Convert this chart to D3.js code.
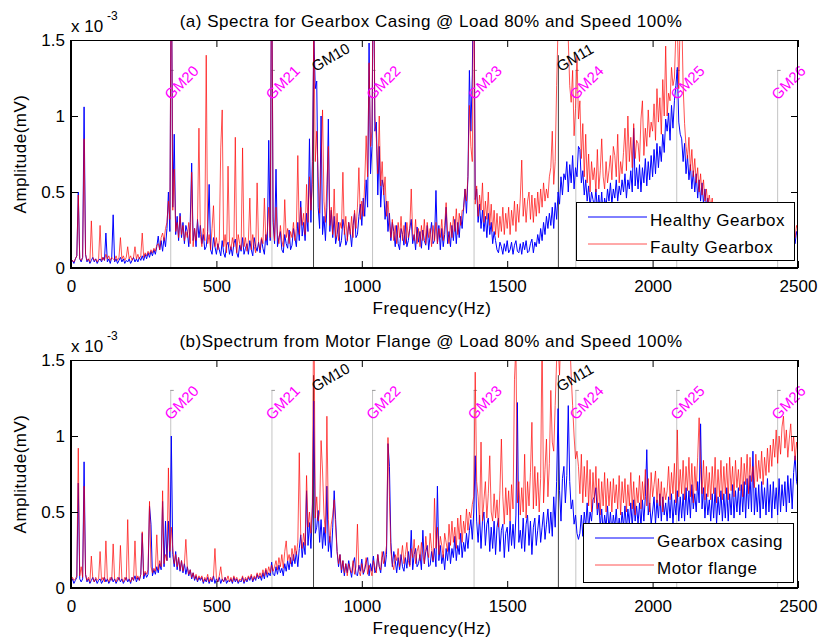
<!DOCTYPE html>
<html>
<head>
  <meta charset="utf-8">
  <title>Gearbox spectra</title>
  <script src="https://d3js.org/d3.v7.min.js"></script>
  <style>
    body { margin: 0; background: #fff; }
    svg { font-family: Arial, "Liberation Sans", Helvetica, sans-serif; }
    .tick text { font-size: 17px; fill: #000; }
    .tick line { stroke: #000; }
    .title, .legend-text, .axis-label { font-size: 17px; letter-spacing: 0.5px; fill: #000; }
    .spec { fill: none; stroke-width: 1px; stroke-linejoin: round; }
  </style>
</head>
<body>
<script>
  // spectrum grid: one value every 5 Hz from 0 to 2500 Hz
  // amplitudes in units of 0.01 x 10^-3 mV
  var freqStep = 5;

  var xTicks = [0, 500, 1000, 1500, 2000, 2500];
  var yTicks = [0, 0.5, 1, 1.5];
  var yTickLabels = ["0", "0.5", "1", "1.5"];

  var gm2Names = ["GM20", "GM21", "GM22", "GM23", "GM24", "GM25", "GM26"];
  var gm2Freqs = [343, 691, 1037, 1386, 1736, 2083, 2430];
  var gm1Names = ["GM10", "GM11"];
  var gm1Freqs = [834, 1676];

  // (a) gearbox casing, healthy gearbox
  var healthyGearbox = [
    3,5,3,6,8,50,6,4,7,106, 9,4,6,3,5,7,4,6,3,5,
    6,4,7,5,23,4,6,3,7,35, 4,6,3,5,7,4,6,3,5,4,
    6,3,5,7,4,6,4,7,5,8, 5,9,6,10,7,11,8,12,9,14,
    21,12,18,11,20,14,26,50,24,220, 40,88,22,34,18,36,20,30,16,28,
    24,14,30,69,18,26,14,32,20,28, 16,22,12,14,24,55,12,9,20,14,
    9,16,12,8,18,10,7,15,17,9, 14,8,16,19,10,7,15,11,20,9,
    13,16,9,18,12,8,20,14,11,17, 10,19,13,9,22,15,84,18,220,30,
    16,65,14,20,24,12,10,22,16,13, 25,12,15,26,20,14,30,18,44,21,
    30,18,36,24,85,30,70,155,118,123, 40,26,100,22,34,18,40,98,24,38,
    20,34,16,22,30,14,18,32,26,15, 18,30,24,14,28,36,20,22,34,42,
    28,46,34,58,40,148,62,80,220,90, 96,48,80,40,58,53,32,44,24,36,
    18,30,24,14,28,16,12,26,22,15, 30,14,18,26,32,16,22,12,27,17,
    24,13,25,18,15,28,12,22,30,16, 18,51,16,28,12,26,14,22,40,16,
    24,14,28,18,32,16,30,20,34,26, 40,52,36,60,130,90,127,220,45,52,
    30,42,26,38,24,34,20,36,22,30, 16,24,18,12,10,17,14,9,16,11,
    18,10,12,17,9,15,18,11,10,16, 9,17,12,18,10,11,16,19,10,17,
    14,22,16,26,18,30,22,34,26,36, 28,40,26,43,32,50,42,60,48,62,
    58,70,50,68,56,74,52,66,60,80, 78,56,64,48,58,44,54,40,50,45,
    40,52,38,48,36,50,34,46,40,52, 44,56,42,52,46,58,44,54,48,58,
    50,62,46,58,52,64,50,92,54,66, 52,68,50,66,56,72,54,70,58,74,
    60,78,62,82,66,80,70,88,76,98, 90,102,84,107,92,110,120,132,96,88,
    85,70,82,62,74,58,68,52,64,50, 62,46,58,44,56,42,52,40,46,38,
    38,30,36,28,34,26,32,28,30,24, 28,22,30,24,26,20,28,22,26,20,
    25,19,27,21,24,18,26,20,25,19, 24,18,25,20,23,17,24,19,22,18,
    21,26,18,24,20,25,17,22,19,24, 20,25,18,23,16,24,19,22,16,24,
    20
  ];

  // (a) gearbox casing, faulty gearbox
  var faultyGearbox = [
    3,5,4,6,8,48,6,5,7,85, 9,5,6,4,31,7,5,6,4,6,
    28,5,7,5,9,6,8,5,7,6, 5,8,5,7,20,6,8,5,7,14,
    6,8,5,7,14,6,9,6,8,23, 7,10,8,11,9,12,10,13,11,15,
    16,12,20,23,18,26,30,44,32,220, 38,65,24,30,20,34,22,28,18,24,
    20,30,16,63,14,26,18,30,92,22, 14,26,18,140,16,22,12,26,41,14,
    20,12,18,79,104,14,22,10,67,16, 12,20,14,86,10,22,16,12,79,14,
    20,11,18,46,12,22,14,10,56,16, 12,20,16,46,18,24,40,20,220,34,
    18,40,22,16,28,18,14,45,20,26, 16,24,20,30,18,26,74,22,40,28,
    36,22,55,30,60,38,55,160,70,90, 60,36,70,104,44,30,55,80,28,40,
    22,52,20,36,18,30,26,63,22,34, 18,30,22,34,20,38,26,40,66,32,
    44,34,56,87,60,135,80,90,220,100, 85,62,100,54,70,48,60,34,44,30,
    20,32,18,28,16,30,20,34,18,28, 16,30,20,26,52,22,18,32,16,26,
    14,28,18,32,16,30,20,26,14,28, 18,30,16,26,20,32,18,28,43,22,
    16,30,20,34,24,39,22,36,28,38, 38,52,44,60,107,80,70,220,42,54,
    34,48,38,56,30,44,32,50,28,42, 24,38,22,36,20,34,24,40,22,36,
    26,40,22,38,28,44,24,42,30,46, 71,34,46,30,44,50,32,48,30,46,
    34,50,36,52,40,56,44,52,46,60, 66,90,55,70,120,160,170,155,165,180,
    160,175,150,120,109,130,87,105,140,98, 110,72,95,60,88,56,75,50,70,58,
    66,50,78,52,64,85,60,52,70,56, 64,74,58,80,74,60,88,56,70,62,
    76,92,64,100,70,86,66,95,72,84, 82,70,98,110,74,92,80,104,86,96,
    90,108,84,118,96,112,88,124,100,146, 100,115,110,132,120,125,155,160,118,165,
    170,120,95,80,72,86,64,78,60,72, 56,66,50,62,48,58,44,52,42,48,
    40,46,36,42,34,40,33,38,32,36, 30,36,29,34,28,33,27,32,28,31,
    27,32,26,31,25,30,26,29,24,30, 26,30,24,29,23,28,25,29,23,27,
    24,29,22,28,26,30,23,27,22,28, 25,29,23,27,22,28,24,27,20,28,
    25
  ];

  // (b) gearbox casing
  var gearboxCasing = [
    4,6,3,5,7,69,6,4,6,83, 9,4,6,3,5,7,4,6,3,5,
    6,3,5,7,4,6,3,5,7,4, 6,3,5,7,4,6,3,5,7,4,
    6,3,7,5,8,4,7,5,9,36, 6,10,7,9,54,42,8,12,9,14,
    10,16,12,57,14,44,18,44,20,100, 22,14,24,12,20,11,18,10,16,9,
    14,8,12,6,10,5,8,4,7,5, 7,3,6,4,7,3,6,4,8,3,
    6,4,7,3,6,4,7,3,5,4, 6,3,7,4,6,3,5,4,7,3,
    6,4,7,5,8,4,7,5,9,6, 8,5,10,6,12,7,10,8,17,9,
    8,14,9,15,10,13,8,16,11,18, 12,20,14,22,16,24,14,26,35,20,
    30,22,64,28,43,26,50,123,36,40, 51,30,45,26,40,28,67,24,34,20,
    40,64,45,24,14,22,10,18,8,16, 10,18,12,7,16,20,9,8,15,11,
    19,9,12,17,20,8,16,11,21,10, 12,22,14,10,20,24,14,22,95,80,
    30,14,24,18,10,20,12,22,14,11, 20,13,24,15,38,12,22,26,14,16,
    22,12,38,16,24,28,14,15,24,17, 26,14,67,18,28,16,22,12,26,18,
    30,16,26,20,34,18,28,22,36,20, 30,24,36,26,38,45,32,50,87,44,
    30,48,26,44,50,28,42,46,24,40, 26,44,22,40,46,24,38,42,20,36,
    40,24,44,28,42,26,48,122,30,38, 26,46,24,42,48,28,44,22,40,46,
    28,38,48,30,40,50,32,42,52,36, 50,34,60,40,70,118,64,44,72,80,
    56,74,120,70,52,58,42,48,36,32, 36,48,34,50,40,56,38,50,44,58,
    60,66,48,56,40,52,36,48,40,54, 38,50,36,48,40,52,36,46,38,50,
    40,54,38,52,42,56,40,58,44,54, 42,56,40,58,44,60,91,48,56,42,
    50,60,42,58,46,62,44,60,48,56, 44,60,46,62,42,58,48,64,44,60,
    46,62,44,66,48,64,46,68,52,62, 50,70,56,108,52,66,46,62,48,58,
    44,62,46,66,42,60,48,64,44,62, 46,66,44,62,48,68,46,64,50,66,
    48,68,50,70,46,72,52,74,50,90, 48,66,50,68,46,70,52,66,48,72,
    50,68,46,70,52,66,48,72,50,68, 54,70,50,74,56,72,52,76,87,70,
    66
  ];

  // (b) motor flange
  var motorFlange = [
    4,7,5,6,8,92,8,14,7,67, 9,5,7,4,21,6,4,7,5,6,
    24,5,7,4,31,6,4,7,5,29, 6,4,7,5,28,6,4,7,5,45,
    6,4,7,5,31,6,8,5,9,37, 8,11,9,12,57,14,10,13,11,35,
    12,18,14,64,16,22,18,79,24,40, 26,16,22,14,20,12,18,11,16,32,
    14,9,12,7,10,6,9,5,8,6, 8,4,7,5,9,4,7,5,8,26,
    7,4,8,14,6,4,7,5,8,4, 7,4,8,5,7,4,6,5,8,4,
    7,5,8,6,9,5,8,6,10,7, 10,7,12,8,13,9,14,10,15,11,
    14,18,12,20,14,22,13,24,31,18, 22,16,26,18,28,22,30,89,34,26,
    36,28,74,40,50,36,55,200,46,60, 44,50,97,77,48,36,113,45,30,42,
    48,58,40,24,16,22,12,18,10,16, 8,16,12,10,18,9,14,42,11,8,
    16,10,13,20,9,15,12,8,18,14, 10,22,14,12,24,16,20,28,99,60,
    24,16,12,22,18,26,14,20,28,16, 22,30,18,14,26,20,32,16,24,28,
    18,30,22,16,34,24,20,36,26,18, 59,26,40,22,34,28,20,36,30,24,
    42,28,44,30,40,26,46,32,48,30, 44,36,52,38,50,46,55,60,142,70,
    60,42,96,44,58,70,46,62,87,50, 44,62,46,58,40,64,98,60,42,66,
    48,64,44,68,52,137,160,56,70,48, 66,50,88,46,70,54,76,109,52,80,
    54,76,50,72,170,56,78,98,60,82, 130,96,90,120,150,160,140,170,155,165,
    160,175,150,165,140,120,100,85,90,80, 62,88,56,80,60,84,54,78,50,76,
    56,80,52,72,48,70,54,76,50,72, 54,70,50,72,56,68,52,74,48,70,
    56,72,50,68,54,76,52,70,48,66, 56,74,52,70,58,78,54,72,50,76,
    60,68,77,56,72,54,70,50,66,58, 64,80,58,76,62,82,56,104,60,78,
    62,84,58,80,64,86,60,82,56,80, 64,86,112,78,62,84,58,80,60,76,
    58,80,62,86,56,78,60,84,58,80, 62,82,58,86,64,80,60,84,66,78,
    64,86,60,82,68,88,62,86,70,80, 66,88,70,84,72,90,68,86,74,92,
    76,94,80,98,86,104,82,100,88,106, 113,92,104,86,98,108,90,100,84,96,
    88
  ];

  // Layout
  var width = 821, height = 641;
  var plotLeft = 71, plotRight = 798;
  var redOpacity = 0.68;

  var panels = [
    { id: "a", top: 40, bottom: 268,
      title: "(a) Spectra for Gearbox Casing @ Load 80% and Speed 100%",
      blue: healthyGearbox, red: faultyGearbox,
      names: ["Healthy Gearbox", "Faulty Gearbox"],
      legend: { x: 576, y: 202, w: 218, h: 58, lineX: 588, lineW: 59, textX: 650 } },
    { id: "b", top: 360, bottom: 588,
      title: "(b)Spectrum from Motor Flange @ Load 80% and Speed 100%",
      blue: gearboxCasing, red: motorFlange,
      names: ["Gearbox casing", "Motor flange"],
      legend: { x: 583, y: 523, w: 210, h: 59, lineX: 595, lineW: 59, textX: 657 } }
  ];

  var svg = d3.select("body").append("svg")
      .attr("width", width)
      .attr("height", height);

  panels.forEach(drawPanel);

  function drawPanel(p) {
    var x = d3.scaleLinear().domain([0, 2500]).range([plotLeft, plotRight]);
    var y = d3.scaleLinear().domain([0, 1.5]).range([p.bottom, p.top]);

    svg.append("clipPath").attr("id", "clip-" + p.id)
      .append("rect")
        .attr("x", plotLeft).attr("y", p.top)
        .attr("width", plotRight - plotLeft).attr("height", p.bottom - p.top);

    var g = svg.append("g");

    // gear mesh reference lines
    gm2Freqs.forEach(function(f) {
      g.append("line")
          .attr("x1", x(f)).attr("x2", x(f))
          .attr("y1", y(0)).attr("y2", y(1.3))
          .attr("stroke", "#c4c4c4").attr("stroke-width", 1);
      g.append("line")
          .attr("x1", x(f) - 0.5).attr("x2", x(f) + 3)
          .attr("y1", y(1.3)).attr("y2", y(1.3))
          .attr("stroke", "#999").attr("stroke-width", 1);
    });
    gm1Freqs.forEach(function(f) {
      g.append("line")
          .attr("x1", x(f)).attr("x2", x(f))
          .attr("y1", y(0)).attr("y2", y(1.4))
          .attr("stroke", "#404040").attr("stroke-width", 1);
    });

    // spectra
    var line = d3.line()
        .x(function(d, i) { return x(i * freqStep); })
        .y(function(d) { return y(d / 100); });

    g.append("path")
        .datum(p.blue)
        .attr("class", "spec")
        .attr("clip-path", "url(#clip-" + p.id + ")")
        .attr("stroke", "#0000ff")
        .attr("d", line);

    g.append("path")
        .datum(p.red)
        .attr("class", "spec")
        .attr("clip-path", "url(#clip-" + p.id + ")")
        .attr("stroke", "#ff0000")
        .attr("stroke-opacity", redOpacity)
        .attr("d", line);

    // GM labels
    gm2Freqs.forEach(function(f, i) {
      g.append("text")
          .attr("transform", "translate(" + x(f) + "," + y(1.1) + ") rotate(-45)")
          .style("font-size", "15px")
          .style("fill", "#ff00ff")
          .text(gm2Names[i]);
    });
    gm1Freqs.forEach(function(f, i) {
      g.append("text")
          .attr("transform", "translate(" + (x(f) + 2) + "," + y(1.29) + ") rotate(-30)")
          .style("font-size", "15px")
          .style("fill", "#000")
          .text(gm1Names[i]);
    });

    // axes
    var bottomAxis = g.append("g")
        .attr("transform", "translate(0," + p.bottom + ")")
        .call(d3.axisBottom(x).tickValues(xTicks).tickSizeInner(-7).tickSizeOuter(0).tickPadding(12)
              .tickFormat(d3.format("d")));
    var leftAxis = g.append("g")
        .attr("transform", "translate(" + plotLeft + ",0)")
        .call(d3.axisLeft(y).tickValues(yTicks).tickSizeInner(-7).tickSizeOuter(0).tickPadding(6)
              .tickFormat(function(d, i) { return yTickLabels[i]; }));
    var topAxis = g.append("g")
        .attr("transform", "translate(0," + p.top + ")")
        .call(d3.axisTop(x).tickValues(xTicks).tickSizeInner(-7).tickSizeOuter(0).tickFormat(""));
    var rightAxis = g.append("g")
        .attr("transform", "translate(" + plotRight + ",0)")
        .call(d3.axisRight(y).tickValues(yTicks).tickSizeInner(-7).tickSizeOuter(0).tickFormat(""));

    [bottomAxis, leftAxis, topAxis, rightAxis].forEach(function(a) {
      a.attr("font-family", null).attr("font-size", null);
      a.select(".domain").remove();
    });
    leftAxis.selectAll(".tick text").attr("dy", "0.35em");

    // box
    g.append("line").attr("x1", plotLeft).attr("x2", plotRight).attr("y1", p.top + 0.5).attr("y2", p.top + 0.5)
        .attr("stroke", "#000").attr("stroke-width", 1);
    g.append("line").attr("x1", plotRight - 0.5).attr("x2", plotRight - 0.5).attr("y1", p.top).attr("y2", p.bottom)
        .attr("stroke", "#000").attr("stroke-width", 1);
    g.append("line").attr("x1", plotLeft - 1).attr("x2", plotRight).attr("y1", p.bottom).attr("y2", p.bottom)
        .attr("stroke", "#000").attr("stroke-width", 2);
    g.append("line").attr("x1", plotLeft).attr("x2", plotLeft).attr("y1", p.top).attr("y2", p.bottom + 1)
        .attr("stroke", "#000").attr("stroke-width", 2);

    // labels
    g.append("text").attr("class", "title")
        .attr("x", 431).attr("y", p.top - 13)
        .attr("text-anchor", "middle")
        .text(p.title);
    g.append("text").attr("class", "axis-label")
        .attr("x", 432).attr("y", p.bottom + 46)
        .attr("text-anchor", "middle")
        .text("Frequency(Hz)");
    g.append("text").attr("class", "axis-label")
        .attr("transform", "translate(26," + ((p.top + p.bottom) / 2) + ") rotate(-90)")
        .attr("text-anchor", "middle")
        .text("Amplitude(mV)");
    g.append("text")
        .attr("x", plotLeft).attr("y", p.top - 8)
        .style("font-size", "17px")
        .text("x 10");
    g.append("text")
        .attr("x", plotLeft + 36).attr("y", p.top - 20)
        .style("font-size", "12px")
        .text("-3");

    // legend
    var L = p.legend;
    var lg = g.append("g");
    lg.append("rect")
        .attr("x", L.x + 0.5).attr("y", L.y + 0.5)
        .attr("width", L.w).attr("height", L.h)
        .attr("fill", "#fff").attr("stroke", "#000").attr("stroke-width", 1);
    [{ c: "#0000ff", o: 1 }, { c: "#ff0000", o: redOpacity }].forEach(function(s, i) {
      var ly = L.y + 15 + i * 27;
      lg.append("line")
          .attr("x1", L.lineX).attr("x2", L.lineX + L.lineW)
          .attr("y1", ly).attr("y2", ly)
          .attr("stroke", s.c).attr("stroke-opacity", s.o).attr("stroke-width", 1);
      lg.append("text").attr("class", "legend-text")
          .attr("x", L.textX).attr("y", ly + 8.5)
          .text(p.names[i]);
    });
  }
</script>
</body>
</html>
